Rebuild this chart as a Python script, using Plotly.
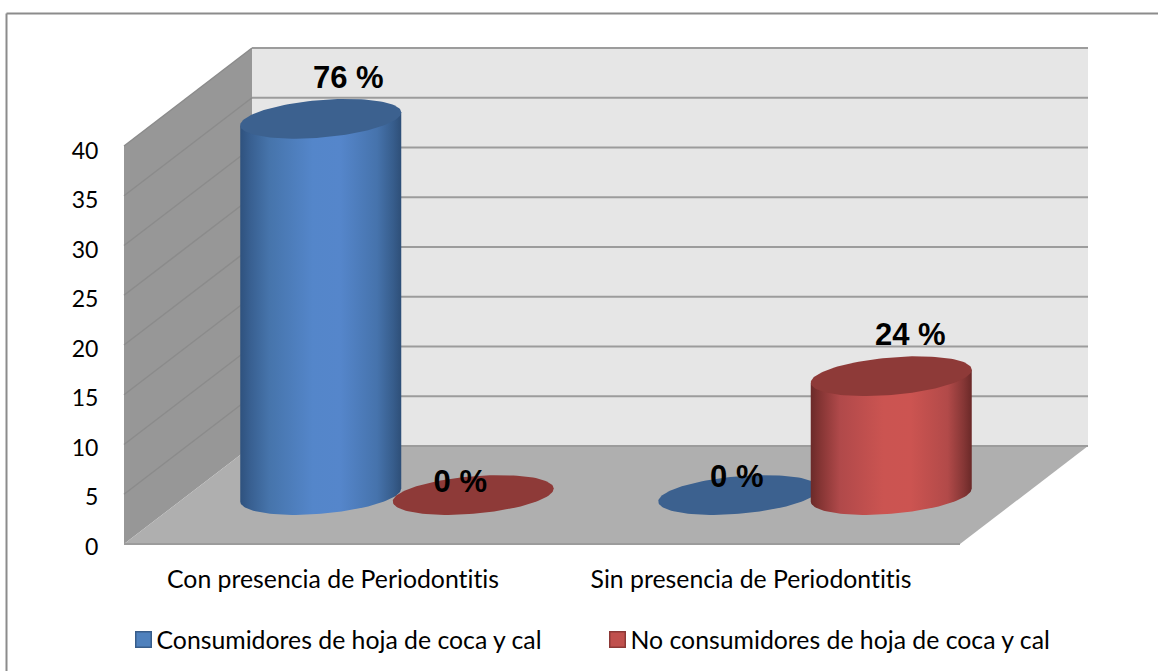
import numpy as np
import plotly.graph_objects as go

# ---------- data ----------
categories = ["Con presencia de Periodontitis", "Sin presencia de Periodontitis"]
series_names = ["Consumidores de hoja de coca y cal", "No consumidores de hoja de coca y cal"]
consumidores = [38, 0]
no_consumidores = [0, 12]
consumidores_labels = ["76 %", "0 %"]
no_consumidores_labels = ["0 %", "24 %"]
y_ticks = [0, 5, 10, 15, 20, 25, 30, 35, 40]

# ---------- layout geometry ----------
W, H = 1158, 671
X0_PX, PX_PER_CAT = 333.0, 418.0      # pixel of category 0, pixels per category
Y0_PX, PX_PER_UNIT = 546.5, 9.9       # pixel of value 0, pixels per value unit
FLOOR_PX = 544.0                      # front floor edge pixel
Y_TOP = 40
WALL_Y0 = (Y0_PX - FLOOR_PX) / PX_PER_UNIT
WALL_SCALE = 9.95 / PX_PER_UNIT
DEPTH_X, DEPTH_Y = 128 / PX_PER_CAT, 98 / PX_PER_UNIT   # wall depth
X_L, X_R = -0.5, 1.5
BAR_DX = 64 / PX_PER_CAT              # cylinders stand mid-depth
BAR_BASE = (Y0_PX - 495) / PX_PER_UNIT
SERIES_OFFSET = 76.25 / PX_PER_CAT
A = 80.5 / PX_PER_CAT                 # ellipse half width
B = 18.8 / PX_PER_UNIT                # ellipse half height
K = 6.5 / PX_PER_UNIT                 # ellipse tilt

FONT = "Lato"
TICK_SIZE = 23
CAT_SIZE = 24.8
LABEL_SIZE = 31

BLUE_GRAD = [[0, "#2f527e"], [0.06, "#385f90"], [0.18, "#4674ab"], [0.45, "#5486ca"],
             [0.62, "#5586cb"], [0.85, "#4673ac"], [0.95, "#375d8c"], [1, "#2e4f78"]]
RED_GRAD = [[0, "#6b2a29"], [0.06, "#853534"], [0.18, "#b0494a"], [0.45, "#cb5451"],
            [0.62, "#cc5451"], [0.85, "#b24a49"], [0.95, "#853635"], [1, "#6a2928"]]
BLUE_TOP, RED_TOP = "#3c618f", "#8e3a38"
BLUE_SWATCH, RED_SWATCH = "#4f81bd", "#c0504d"
BLUE_EDGE, RED_EDGE = "#385d8a", "#8c3836"

# label offsets from cylinder-top centre, in pixels
LABEL_SHIFT = {
    (0, 0): (27.5, 39), (0, 1): (-2, 16),
    (1, 0): (-13, 11), (1, 1): (19, 39),
}

t_full = np.linspace(0, 2 * np.pi, 121)
t_low = np.linspace(0, np.pi, 61)


def ellipse(cx, cy, t):
    return cx + A * np.cos(t), cy - B * np.sin(t) + K * np.cos(t)


def wall_y(v):
    return WALL_Y0 + v * WALL_SCALE


fig = go.Figure()

series = [
    (consumidores, consumidores_labels, -SERIES_OFFSET, BLUE_GRAD, BLUE_TOP, 0),
    (no_consumidores, no_consumidores_labels, SERIES_OFFSET, RED_GRAD, RED_TOP, 1),
]
label_x, label_y, label_text = [], [], []
for c in range(len(categories)):
    for values, labels, off, grad, top, s in series:
        v = values[c]
        cx = c + off + BAR_DX
        if v > 0:
            bx, by = ellipse(cx, BAR_BASE, t_low)
            xs = np.concatenate([bx, [cx - A, cx + A, cx + A]])
            ys = np.concatenate([by, [BAR_BASE + v - K, BAR_BASE + v + K, BAR_BASE + K]])
            fig.add_trace(go.Scatter(
                x=xs, y=ys, mode="lines", line=dict(width=0), fill="toself",
                fillgradient=dict(type="horizontal", colorscale=grad),
                showlegend=False, hoverinfo="skip"))
        ex, ey = ellipse(cx, BAR_BASE + v, t_full)
        fig.add_trace(go.Scatter(
            x=ex, y=ey, mode="lines", line=dict(width=0), fill="toself",
            fillcolor=top, showlegend=False, hoverinfo="skip"))
        dx, dy = LABEL_SHIFT[(s, c)]
        label_x.append(cx + dx / PX_PER_CAT)
        label_y.append(BAR_BASE + v + dy / PX_PER_UNIT)
        label_text.append(labels[c])

fig.add_trace(go.Scatter(
    x=label_x, y=label_y, text=label_text, mode="text", textposition="middle center",
    textfont=dict(family="Liberation Sans", size=LABEL_SIZE, color="#000000", weight="bold"),
    showlegend=False, hoverinfo="skip", cliponaxis=False))

for name, col, edge in [(series_names[0], BLUE_SWATCH, BLUE_EDGE), (series_names[1], RED_SWATCH, RED_EDGE)]:
    fig.add_trace(go.Scatter(
        x=[None], y=[None], mode="markers", name=name,
        marker=dict(symbol="square", size=15.5, color=col, line=dict(color=edge, width=1.5))))

# ---------- walls, floor, grid ----------
shapes = []


def poly(pts, fill):
    d = "M " + " L ".join(f"{x},{y}" for x, y in pts) + " Z"
    return dict(type="path", path=d, xref="x", yref="y", fillcolor=fill,
                line=dict(width=0), layer="below")


shapes.append(poly([(X_L + DEPTH_X, wall_y(0) + DEPTH_Y), (X_R + DEPTH_X, wall_y(0) + DEPTH_Y),
                    (X_R + DEPTH_X, wall_y(Y_TOP) + DEPTH_Y), (X_L + DEPTH_X, wall_y(Y_TOP) + DEPTH_Y)], "#e6e6e6"))
shapes.append(poly([(X_L, wall_y(0)), (X_L + DEPTH_X, wall_y(0) + DEPTH_Y),
                    (X_L + DEPTH_X, wall_y(Y_TOP) + DEPTH_Y), (X_L, wall_y(Y_TOP))], "#979797"))
shapes.append(poly([(X_L, wall_y(0)), (X_R, wall_y(0)), (X_R + DEPTH_X, wall_y(0) + DEPTH_Y),
                    (X_L + DEPTH_X, wall_y(0) + DEPTH_Y)], "#afafaf"))
for v in y_ticks:
    if v > 0:
        shapes.append(dict(type="line", xref="x", yref="y", x0=X_L, y0=wall_y(v),
                           x1=X_L + DEPTH_X, y1=wall_y(v) + DEPTH_Y,
                           line=dict(color="#8b8b8b", width=1.5), layer="below"))
    shapes.append(dict(type="line", xref="x", yref="y", x0=X_L + DEPTH_X, y0=wall_y(v) + DEPTH_Y,
                       x1=X_R + DEPTH_X, y1=wall_y(v) + DEPTH_Y,
                       line=dict(color="#9c9c9c", width=2), layer="below"))
shapes.append(dict(type="line", xref="x", yref="y", x0=X_L, y0=wall_y(0), x1=X_R, y1=wall_y(0),
                   line=dict(color="#9c9c9c", width=2), layer="below"))
# outer chart frame: only left and top edges fall inside the picture
shapes.append(dict(type="line", xref="paper", yref="paper", x0=6.5 / W, y0=0, x1=6.5 / W, y1=1 - 13.5 / H,
                   line=dict(color="#8c8c8c", width=2), layer="below"))
shapes.append(dict(type="line", xref="paper", yref="paper", x0=6.5 / W, y0=1 - 13.5 / H, x1=1, y1=1 - 13.5 / H,
                   line=dict(color="#8c8c8c", width=2), layer="below"))

x_range = [-X0_PX / PX_PER_CAT, (W - X0_PX) / PX_PER_CAT]
y_range = [(Y0_PX - H) / PX_PER_UNIT, Y0_PX / PX_PER_UNIT]

fig.update_layout(
    width=W, height=H, margin=dict(l=0, r=0, t=0, b=0),
    paper_bgcolor="#ffffff", plot_bgcolor="#ffffff",
    shapes=shapes, hovermode=False,
    font=dict(family=FONT, size=TICK_SIZE, color="#000000"),
    xaxis=dict(range=x_range, domain=[0, 1], anchor="free", position=(H - FLOOR_PX) / H,
               tickmode="array", tickvals=[0, 1], ticktext=categories,
               ticks="outside", ticklen=13, tickcolor="rgba(0,0,0,0)",
               showgrid=False, zeroline=False, showline=False, fixedrange=True,
               tickfont=dict(family=FONT, size=CAT_SIZE, color="#000000")),
    yaxis=dict(range=y_range, domain=[0, 1], anchor="free", position=124 / W,
               tickmode="array", tickvals=y_ticks,
               ticks="outside", ticklen=21, tickcolor="rgba(0,0,0,0)",
               showgrid=False, zeroline=False, showline=False, fixedrange=True,
               tickfont=dict(family=FONT, size=TICK_SIZE, color="#000000")),
    legend=dict(orientation="h", x=123.5 / W, y=1 - 617 / H, xanchor="left", yanchor="top",
                entrywidth=429, entrywidthmode="pixels", itemsizing="trace",
                bgcolor="rgba(0,0,0,0)", font=dict(family=FONT, size=CAT_SIZE, color="#000000")),
)

post = """
document.body.style.margin='0';
var st=document.createElement('style');
st.textContent='text{font-variant-ligatures:none !important;}';
document.head.appendChild(st);
document.querySelectorAll('.legendtext').forEach(function(t){t.setAttribute('x', parseFloat(t.getAttribute('x'))-7);});
"""
fig.write_html("out.html", config=dict(displayModeBar=False), post_script=post)
